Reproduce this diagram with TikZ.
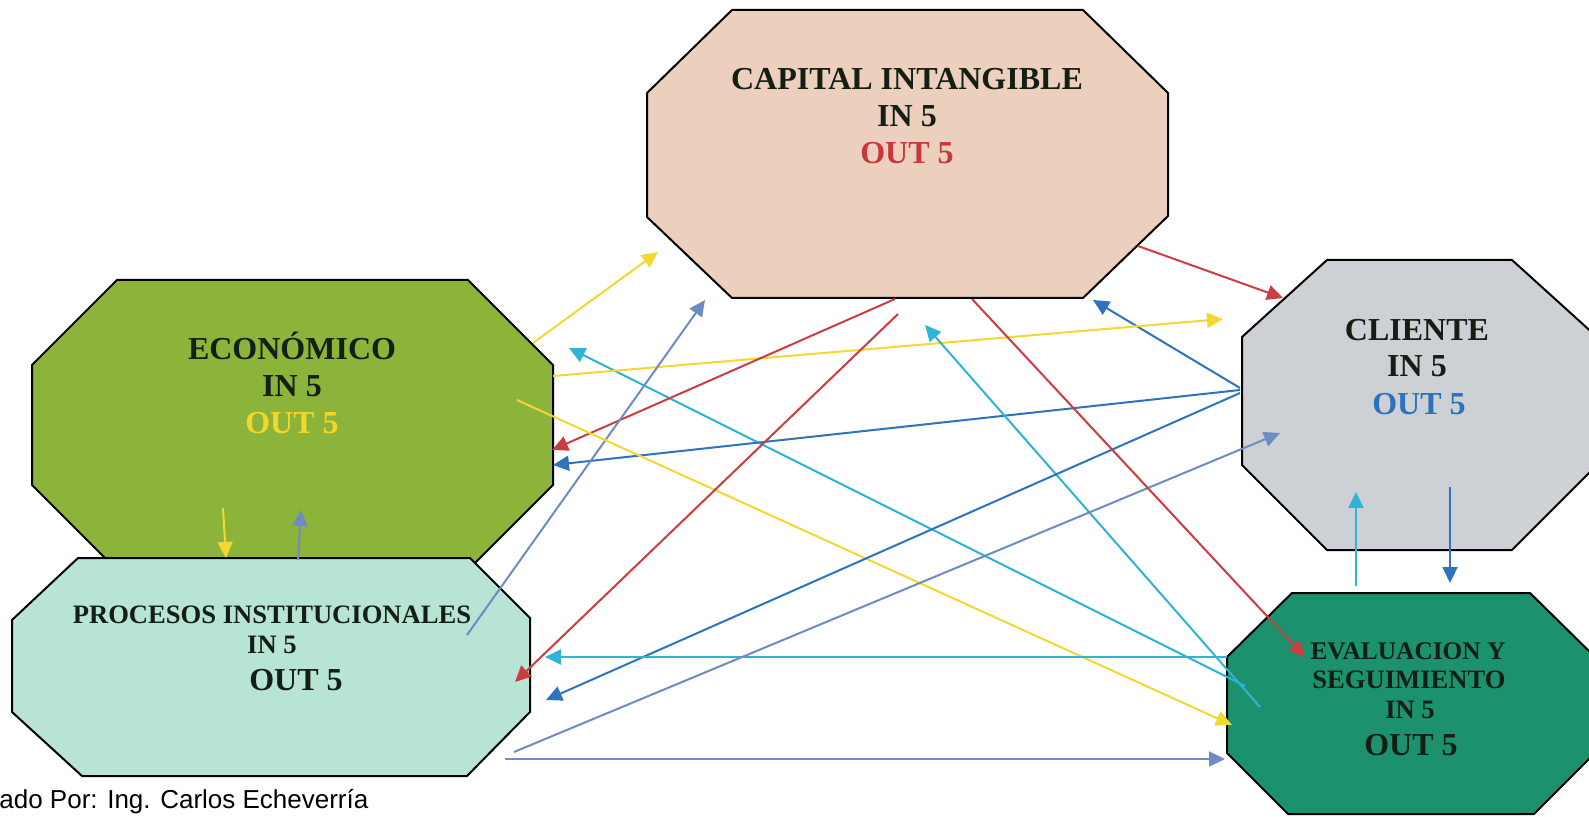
\documentclass[tikz,border=0pt]{standalone}
\usepackage{fontspec}
\setmainfont{Liberation Serif}
\newfontfamily\footfont{Liberation Sans}
\usetikzlibrary{arrows.meta}
\definecolor{capfill}{RGB}{237,207,190}
\definecolor{ecofill}{RGB}{141,180,58}
\definecolor{profill}{RGB}{183,228,212}
\definecolor{clifill}{RGB}{205,208,212}
\definecolor{evafill}{RGB}{28,145,110}
\definecolor{txtred}{RGB}{200,55,60}
\definecolor{txtyel}{RGB}{245,215,40}
\definecolor{txtblu}{RGB}{45,115,185}
\definecolor{cred}{RGB}{205,60,65}
\definecolor{cyel}{RGB}{245,215,50}
\definecolor{cblu}{RGB}{45,115,190}
\definecolor{ccya}{RGB}{45,180,215}
\definecolor{cgry}{RGB}{110,140,195}
\definecolor{txtdark}{RGB}{20,30,20}
\tikzset{
  octa/.style={draw=black, line width=1pt, line join=miter},
  conn/.style={line width=1pt, -{Triangle[length=8pt,width=7.5pt]}},
  big/.style={anchor=base, inner sep=0pt, text=txtdark, font=\bfseries\fontsize{16}{18}\selectfont},
  mid/.style={anchor=base, inner sep=0pt, text=txtdark, font=\bfseries\fontsize{13.3}{15}\selectfont},
  sml/.style={anchor=base, inner sep=0pt, text=txtdark, font=\bfseries\fontsize{12.7}{15}\selectfont},
}
\begin{document}
\begin{tikzpicture}[x=0.5pt,y=-0.5pt]
\clip (0,0) rectangle (1589,817);
\fill[white] (0,0) rectangle (1589,817);

% boxes
\filldraw[octa, fill=capfill] (732,10) -- (1083,10) -- (1168,93) -- (1168,216) -- (1083,298) -- (732,298) -- (647,217) -- (647,93) -- cycle;
\filldraw[octa, fill=ecofill] (117,280) -- (468,280) -- (553,365) -- (553,485) -- (476,562) -- (109,562) -- (32,485) -- (32,365) -- cycle;
\filldraw[octa, fill=profill] (78,558) -- (470,558) -- (530,618) -- (530,712) -- (467,776) -- (82,776) -- (12,712) -- (12,620) -- cycle;
\filldraw[octa, fill=clifill] (1327,260) -- (1512,260) -- (1597,337) -- (1597,465) -- (1512,550) -- (1327,550) -- (1242,465) -- (1242,337) -- cycle;
\filldraw[octa, fill=evafill] (1292,593) -- (1530,593) -- (1595,657) -- (1595,753) -- (1534,814) -- (1288,814) -- (1227,753) -- (1227,657) -- cycle;

% labels
\node[big] (capA) at (907,90) {CAPITAL INTANGIBLE};
\node[big] (capB) at (907,127) {IN 5};
\node[big, text=txtred] (capC) at (907,164) {OUT 5};

\node[big] (ecoA) at (292,360) {ECONÓMICO};
\node[big] (ecoB) at (292,397) {IN 5};
\node[big, text=txtyel] (ecoC) at (292,434) {OUT 5};

\node[big] (cliA) at (1417,341) {CLIENTE};
\node[big] (cliB) at (1417,377) {IN 5};
\node[big, text=txtblu] (cliC) at (1419,415) {OUT 5};

\node[mid] (proA) at (272,623) {PROCESOS INSTITUCIONALES};
\node[mid] (proB) at (272,653) {IN 5};
\node[big] (proC) at (296,690) {OUT 5};

\node[sml] (evaA) at (1408,659) {EVALUACION Y};
\node[mid] (evaB) at (1409,688) {SEGUIMIENTO};
\node[mid] (evaC) at (1410,718) {IN 5};
\node[big] (evaD) at (1411,755) {OUT 5};

\node[anchor=base west, inner sep=0pt, font=\footfont\fontsize{13}{15}\selectfont] (foot) at (-1,808) {ado Por: Ing. Carlos Echeverría};

% connector end points
\coordinate (ys1) at (533,343); \coordinate (ye1) at (658,252);
\coordinate (ys2) at (553,376); \coordinate (ye2) at (1223,319);
\coordinate (ys3) at (517,400); \coordinate (ye3) at (1232,725);
\coordinate (ys4) at (223,508); \coordinate (ye4) at (226,558);

\coordinate (rs1) at (1138,246); \coordinate (re1) at (1283,298);
\coordinate (rs2) at (895,299);  \coordinate (re2) at (552,450);
\coordinate (rs3) at (898,314);  \coordinate (re3) at (515,682);
\coordinate (rs4) at (972,299);  \coordinate (re4) at (1305,657);

\coordinate (bs1) at (1240,388); \coordinate (be1) at (1093,300);
\coordinate (bs2) at (1240,390); \coordinate (be2) at (553,465);
\coordinate (bs3) at (1240,393); \coordinate (be3) at (546,700);
\coordinate (bs4) at (1450,487); \coordinate (be4) at (1450,583);

\coordinate (cs1) at (1245,686); \coordinate (ce1) at (569,348);
\coordinate (cs2) at (1260,707); \coordinate (ce2) at (925,325);
\coordinate (cs3) at (1227,657); \coordinate (ce3) at (545,657);
\coordinate (cs4) at (1356,586); \coordinate (ce4) at (1356,492);

\coordinate (gs1) at (298,560);  \coordinate (ge1) at (301,510);
\coordinate (gs2) at (467,635);  \coordinate (ge2) at (705,300);
\coordinate (gs3) at (514,752);  \coordinate (ge3) at (1280,433);
\coordinate (gs4) at (505,759);  \coordinate (ge4) at (1225,759);

% connectors
\foreach \i in {1,2,3,4} {
  \draw[conn, cyel] (ys\i) -- (ye\i);
  \draw[conn, cred] (rs\i) -- (re\i);
  \draw[conn, cblu] (bs\i) -- (be\i);
  \draw[conn, ccya] (cs\i) -- (ce\i);
  \draw[conn, cgry] (gs\i) -- (ge\i);
}
\end{tikzpicture}
\end{document}
